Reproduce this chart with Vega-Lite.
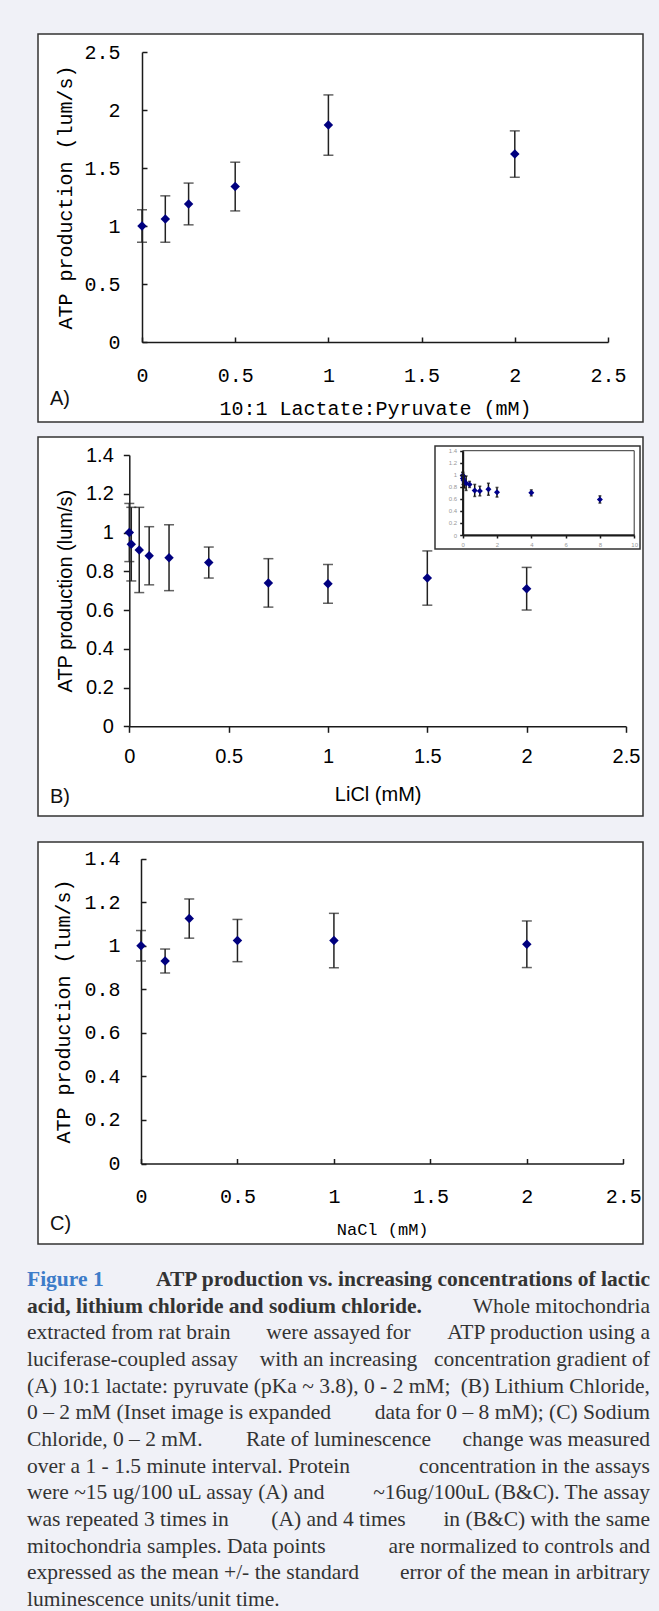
{
  "$schema": "https://vega.github.io/schema/vega-lite/v6.json",
  "background": "#f0f1f7",
  "padding": {"left": 27, "top": 33, "right": 9, "bottom": 0},
  "spacing": 24,
  "config": {
    "view": {"stroke": null},
    "axis": {"grid": false, "labelFlush": false, "labelOverlap": false, "domainColor": "#1a1a1a", "tickColor": "#1a1a1a", "labelColor": "#000", "titleColor": "#000", "titleFontWeight": "normal", "domainWidth": 1.5, "tickWidth": 1.5}
  },
  "datasets": {
    "A": [
      {"x": 0, "y": 1.0, "err": 0.14},
      {"x": 0.125, "y": 1.06, "err": 0.2},
      {"x": 0.25, "y": 1.19, "err": 0.18},
      {"x": 0.5, "y": 1.34, "err": 0.21},
      {"x": 1, "y": 1.87, "err": 0.26},
      {"x": 2, "y": 1.62, "err": 0.2}
    ],
    "B": [
      {"x": 0, "y": 1.0, "err": 0.15},
      {"x": 0.01, "y": 0.94, "err": 0.19},
      {"x": 0.05, "y": 0.91, "err": 0.22},
      {"x": 0.1, "y": 0.88, "err": 0.15},
      {"x": 0.2, "y": 0.87, "err": 0.17},
      {"x": 0.4, "y": 0.845, "err": 0.08},
      {"x": 0.7, "y": 0.74, "err": 0.125},
      {"x": 1, "y": 0.735, "err": 0.1},
      {"x": 1.5, "y": 0.765, "err": 0.14},
      {"x": 2, "y": 0.71, "err": 0.11}
    ],
    "Binset": [
      {"x": 0, "y": 0.99, "err": 0.05},
      {"x": 0.01, "y": 0.94, "err": 0.1},
      {"x": 0.05, "y": 0.91, "err": 0.1},
      {"x": 0.1, "y": 0.88, "err": 0.1},
      {"x": 0.2, "y": 0.86, "err": 0.12},
      {"x": 0.4, "y": 0.84, "err": 0.05},
      {"x": 0.7, "y": 0.74, "err": 0.1},
      {"x": 1, "y": 0.73, "err": 0.08},
      {"x": 1.5, "y": 0.76, "err": 0.1},
      {"x": 2, "y": 0.71, "err": 0.08},
      {"x": 4, "y": 0.7, "err": 0.05},
      {"x": 8, "y": 0.59, "err": 0.06}
    ],
    "C": [
      {"x": 0, "y": 1.0, "err": 0.07},
      {"x": 0.125, "y": 0.93, "err": 0.055},
      {"x": 0.25, "y": 1.125, "err": 0.09},
      {"x": 0.5, "y": 1.024, "err": 0.097},
      {"x": 1, "y": 1.024, "err": 0.125},
      {"x": 2, "y": 1.007, "err": 0.107}
    ],
    "labels": [
      {"panel": "A", "label": "A)"},
      {"panel": "B", "label": "B)"},
      {"panel": "C", "label": "C)"}
    ],
    "caption": [
      {"line": 1, "kind": "fig", "seg": "L", "text": "Figure 1"},
      {"line": 1, "kind": "bold", "seg": "R", "text": "ATP production vs. increasing concentrations of lactic"},
      {"line": 2, "kind": "bold", "seg": "L", "text": "acid, lithium chloride and sodium chloride."},
      {"line": 2, "kind": "body", "seg": "R", "text": "Whole mitochondria"},
      {"line": 3, "kind": "body", "seg": "L", "text": "extracted from rat brain"},
      {"line": 3, "kind": "body", "seg": "C", "text": "were assayed for"},
      {"line": 3, "kind": "body", "seg": "R", "text": "ATP production using a"},
      {"line": 4, "kind": "body", "seg": "L", "text": "luciferase-coupled assay"},
      {"line": 4, "kind": "body", "seg": "C", "text": "with an increasing"},
      {"line": 4, "kind": "body", "seg": "R", "text": "concentration gradient of"},
      {"line": 5, "kind": "body", "seg": "L", "text": "(A) 10:1 lactate: pyruvate (pKa ~ 3.8), 0 - 2 mM;"},
      {"line": 5, "kind": "body", "seg": "R", "text": "(B) Lithium Chloride,"},
      {"line": 6, "kind": "body", "seg": "L", "text": "0 – 2 mM (Inset image is expanded"},
      {"line": 6, "kind": "body", "seg": "R", "text": "data for 0 – 8 mM); (C) Sodium"},
      {"line": 7, "kind": "body", "seg": "L", "text": "Chloride, 0 – 2 mM."},
      {"line": 7, "kind": "body", "seg": "C", "text": "Rate of luminescence"},
      {"line": 7, "kind": "body", "seg": "R", "text": "change was measured"},
      {"line": 8, "kind": "body", "seg": "L", "text": "over a 1 - 1.5 minute interval. Protein"},
      {"line": 8, "kind": "body", "seg": "R", "text": "concentration in the assays"},
      {"line": 9, "kind": "body", "seg": "L", "text": "were ~15 ug/100 uL assay (A) and"},
      {"line": 9, "kind": "body", "seg": "R", "text": "~16ug/100uL (B&C). The assay"},
      {"line": 10, "kind": "body", "seg": "L", "text": "was repeated 3 times in"},
      {"line": 10, "kind": "body", "seg": "C", "text": "(A) and 4 times"},
      {"line": 10, "kind": "body", "seg": "R", "text": "in (B&C) with the same"},
      {"line": 11, "kind": "body", "seg": "L", "text": "mitochondria samples. Data points"},
      {"line": 11, "kind": "body", "seg": "R", "text": "are normalized to controls and"},
      {"line": 12, "kind": "body", "seg": "L", "text": "expressed as the mean +/- the standard"},
      {"line": 12, "kind": "body", "seg": "R", "text": "error of the mean in arbitrary"},
      {"line": 13, "kind": "body", "seg": "L", "text": "luminescence units/unit time."}
    ]
  },
  "vconcat": [
    {
      "spacing": 13,
      "vconcat": [
        {
          "width": 605,
          "height": 388,
          "view": {"fill": "white", "stroke": "#333", "strokeWidth": 1.5},
          "layer": [
            {
              "data": {"name": "A"},
              "encoding": {
                "x": {"field": "x", "type": "quantitative",
                  "scale": {"domain": [0, 2.5], "range": [104, 570], "nice": false, "zero": false},
                  "axis": {"orient": "bottom", "offset": -80, "values": [0, 0.5, 1, 1.5, 2, 2.5], "format": "~g", "tickSize": -5, "labelPadding": 38.5, "labelBaseline": "middle", "labelFont": "Liberation Mono", "labelFontSize": 20, "title": "10:1 Lactate:Pyruvate (mM)", "titleFont": "Liberation Mono", "titleFontSize": 20, "titlePadding": 12.7}},
                "y": {"field": "y", "type": "quantitative",
                  "scale": {"domain": [0, 2.5], "range": [308, 18], "nice": false, "zero": false},
                  "axis": {"orient": "left", "offset": -104, "values": [0, 0.5, 1, 1.5, 2, 2.5], "format": "~g", "tickSize": -5, "labelPadding": 27, "labelFont": "Liberation Mono", "labelFontSize": 20, "title": "ATP production (lum/s)", "titleFont": "Liberation Mono", "titleFontSize": 20, "titlePadding": 8.3}}
              },
              "layer": [
                {"mark": {"type": "errorbar", "ticks": {"size": 10}, "thickness": 1.5, "color": "#222"}, "encoding": {"yError": {"field": "err"}}},
                {"mark": {"type": "point", "shape": "diamond", "filled": true, "size": 90, "color": "#00007f", "opacity": 1}}
              ]
            },
            {
              "data": {"name": "labels"},
              "transform": [{"filter": "datum.panel === 'A'"}],
              "mark": {"type": "text", "align": "left", "baseline": "middle", "font": "Liberation Sans", "fontSize": 20, "color": "#111"},
              "encoding": {
                "x": {"datum": -0.494, "type": "quantitative",
                  "scale": {"domain": [0, 2.5], "range": [104, 570], "nice": false, "zero": false},
                  "axis": {"orient": "bottom", "offset": -80, "values": [0, 0.5, 1, 1.5, 2, 2.5], "format": "~g", "tickSize": -5, "labelPadding": 38.5, "labelBaseline": "middle", "labelFont": "Liberation Mono", "labelFontSize": 20, "title": "10:1 Lactate:Pyruvate (mM)", "titleFont": "Liberation Mono", "titleFontSize": 20, "titlePadding": 12.7}},
                "y": {"datum": -0.49, "type": "quantitative",
                  "scale": {"domain": [0, 2.5], "range": [308, 18], "nice": false, "zero": false},
                  "axis": {"orient": "left", "offset": -104, "values": [0, 0.5, 1, 1.5, 2, 2.5], "format": "~g", "tickSize": -5, "labelPadding": 27, "labelFont": "Liberation Mono", "labelFontSize": 20, "title": "ATP production (lum/s)", "titleFont": "Liberation Mono", "titleFontSize": 20, "titlePadding": 8.3}},
                "text": {"field": "label"}
              }
            }
          ]
        },
        {
          "width": 605,
          "height": 379,
          "view": {"fill": "white", "stroke": "#333", "strokeWidth": 1.5},
          "resolve": {"scale": {"x": "independent", "y": "independent"}, "axis": {"x": "independent", "y": "independent"}},
          "layer": [
            {
              "encoding": {
                "x": {"type": "quantitative",
                  "scale": {"domain": [0, 2.5], "range": [91.3, 588], "nice": false, "zero": false},
                  "axis": {"orient": "bottom", "offset": -89.7, "values": [0, 0.5, 1, 1.5, 2, 2.5], "format": "~g", "tickSize": 6, "labelPadding": 24, "labelBaseline": "middle", "labelFont": "Liberation Sans", "labelFontSize": 20, "title": "LiCl (mM)", "titleFont": "Liberation Sans", "titleFontSize": 20, "titlePadding": 18}},
                "y": {"type": "quantitative",
                  "scale": {"domain": [0, 1.4], "range": [289.3, 18], "nice": false, "zero": false},
                  "axis": {"orient": "left", "offset": -91.3, "values": [0, 0.2, 0.4, 0.6, 0.8, 1, 1.2, 1.4], "format": "~g", "tickSize": 6, "labelPadding": 10, "labelFont": "Liberation Sans", "labelFontSize": 20, "title": "ATP production (lum/s)", "titleFont": "Liberation Sans", "titleFontSize": 20, "titlePadding": 10.3}}
              },
              "layer": [
                {
                  "data": {"name": "B"},
                  "encoding": {"x": {"field": "x"}, "y": {"field": "y"}},
                  "layer": [
                    {"mark": {"type": "errorbar", "ticks": {"size": 10}, "thickness": 1.5, "color": "#222"}, "encoding": {"yError": {"field": "err"}}},
                    {"mark": {"type": "point", "shape": "diamond", "filled": true, "size": 90, "color": "#00007f", "opacity": 1}}
                  ]
                },
                {
                  "data": {"name": "labels"},
                  "transform": [{"filter": "datum.panel === 'B'"}],
                  "mark": {"type": "text", "align": "left", "baseline": "middle", "font": "Liberation Sans", "fontSize": 20, "color": "#111"},
                  "encoding": {"x": {"datum": -0.399}, "y": {"datum": -0.365}, "text": {"field": "label"}}
                }
              ]
            },
            {
              "encoding": {
                "x": {"type": "quantitative",
                  "scale": {"domain": [0, 10], "range": [424.7, 596.2], "nice": false, "zero": false},
                  "axis": {"orient": "bottom", "offset": -281, "values": [0, 2, 4, 6, 8, 10], "tickSize": 3, "labelPadding": 3, "labelFont": "Liberation Sans", "labelFontSize": 6, "labelColor": "#999", "title": null, "zindex": 1, "domainWidth": 2}},
                "y": {"type": "quantitative",
                  "scale": {"domain": [0, 1.4], "range": [98, 13.7], "nice": false, "zero": false},
                  "axis": {"orient": "left", "offset": -424.7, "values": [0, 0.2, 0.4, 0.6, 0.8, 1, 1.2, 1.4], "format": "~g", "tickSize": 3, "labelPadding": 3, "labelFont": "Liberation Sans", "labelFontSize": 6, "labelColor": "#999", "title": null, "zindex": 1, "domainWidth": 2}}
              },
              "layer": [
                {
                  "data": {"name": "labels"},
                  "transform": [{"filter": "datum.panel === 'B'"}],
                  "mark": {"type": "rect", "fill": "white", "stroke": "#333", "strokeWidth": 1.5},
                  "encoding": {"x": {"datum": -1.615}, "x2": {"datum": 10.34}, "y": {"datum": -0.233}, "y2": {"datum": 1.478}}
                },
                {
                  "data": {"name": "labels"},
                  "transform": [{"filter": "datum.panel === 'B'"}],
                  "mark": {"type": "rect", "filled": false, "stroke": "#333", "strokeWidth": 1},
                  "encoding": {"x": {"datum": 0}, "x2": {"datum": 10}, "y": {"datum": 0}, "y2": {"datum": 1.4}}
                },
                {
                  "data": {"name": "Binset"},
                  "encoding": {"x": {"field": "x"}, "y": {"field": "y"}},
                  "layer": [
                    {"mark": {"type": "errorbar", "ticks": {"size": 3}, "thickness": 1.5, "color": "#111"}, "encoding": {"yError": {"field": "err"}}},
                    {"mark": {"type": "point", "shape": "diamond", "filled": true, "size": 36, "color": "#00008b", "opacity": 1}}
                  ]
                }
              ]
            }
          ]
        }
      ]
    },
    {
      "width": 605,
      "height": 402,
      "view": {"fill": "white", "stroke": "#333", "strokeWidth": 1.5},
      "encoding": {
        "x": {"type": "quantitative",
          "scale": {"domain": [0, 2.5], "range": [103, 585.3], "nice": false, "zero": false},
          "axis": {"orient": "bottom", "offset": -80.5, "values": [0, 0.5, 1, 1.5, 2, 2.5], "format": "~g", "tickSize": -5, "labelPadding": 38, "labelBaseline": "middle", "labelFont": "Liberation Mono", "labelFontSize": 20, "title": "NaCl (mM)", "titleFont": "Liberation Mono", "titleFontSize": 17, "titlePadding": 15}},
        "y": {"type": "quantitative",
          "scale": {"domain": [0, 1.4], "range": [321.5, 16.7], "nice": false, "zero": false},
          "axis": {"orient": "left", "offset": -103, "values": [0, 0.2, 0.4, 0.6, 0.8, 1, 1.2, 1.4], "format": "~g", "tickSize": -5, "labelPadding": 26, "labelFont": "Liberation Mono", "labelFontSize": 20, "title": "ATP production (lum/s)", "titleFont": "Liberation Mono", "titleFontSize": 20, "titlePadding": 10}}
      },
      "layer": [
        {
          "data": {"name": "C"},
          "encoding": {"x": {"field": "x"}, "y": {"field": "y"}},
          "layer": [
            {"mark": {"type": "errorbar", "ticks": {"size": 10}, "thickness": 1.5, "color": "#222"}, "encoding": {"yError": {"field": "err"}}},
            {"mark": {"type": "point", "shape": "diamond", "filled": true, "size": 90, "color": "#00007f", "opacity": 1}}
          ]
        },
        {
          "data": {"name": "labels"},
          "transform": [{"filter": "datum.panel === 'C'"}],
          "mark": {"type": "text", "align": "left", "baseline": "middle", "font": "Liberation Sans", "fontSize": 20, "color": "#111"},
          "encoding": {"x": {"datum": -0.472}, "y": {"datum": -0.2775}, "text": {"field": "label"}}
        }
      ]
    },
    {
      "width": 605,
      "height": 340,
      "data": {"name": "caption"},
      "encoding": {
        "y": {"field": "line", "type": "quantitative", "scale": {"domain": [1, 13], "range": [10, 330], "nice": false, "zero": false}, "axis": null},
        "x": {"type": "quantitative", "scale": {"domain": [0, 1], "range": [-11, 612], "nice": false, "zero": false}, "axis": null},
        "text": {"field": "text"}
      },
      "layer": [
        {
          "transform": [{"filter": "datum.kind === 'fig'"}],
          "mark": {"type": "text", "align": "left", "baseline": "middle", "font": "Liberation Serif", "fontSize": 21.5, "fontWeight": "bold", "color": "#3d7cc9"},
          "encoding": {"x": {"datum": 0}}
        },
        {
          "transform": [{"filter": "datum.kind === 'bold' && datum.seg === 'L'"}],
          "mark": {"type": "text", "align": "left", "baseline": "middle", "font": "Liberation Serif", "fontSize": 21.5, "fontWeight": "bold", "color": "#333"},
          "encoding": {"x": {"datum": 0}}
        },
        {
          "transform": [{"filter": "datum.kind === 'bold' && datum.seg === 'R'"}],
          "mark": {"type": "text", "align": "right", "baseline": "middle", "font": "Liberation Serif", "fontSize": 21.5, "fontWeight": "bold", "color": "#333"},
          "encoding": {"x": {"datum": 1}}
        },
        {
          "transform": [{"filter": "datum.kind === 'body' && datum.seg === 'L'"}],
          "mark": {"type": "text", "align": "left", "baseline": "middle", "font": "Liberation Serif", "fontSize": 21.5, "color": "#333"},
          "encoding": {"x": {"datum": 0}}
        },
        {
          "transform": [{"filter": "datum.kind === 'body' && datum.seg === 'C'"}],
          "mark": {"type": "text", "align": "center", "baseline": "middle", "font": "Liberation Serif", "fontSize": 21.5, "color": "#333"},
          "encoding": {"x": {"datum": 0.5}}
        },
        {
          "transform": [{"filter": "datum.kind === 'body' && datum.seg === 'R'"}],
          "mark": {"type": "text", "align": "right", "baseline": "middle", "font": "Liberation Serif", "fontSize": 21.5, "color": "#333"},
          "encoding": {"x": {"datum": 1}}
        }
      ]
    }
  ]
}
